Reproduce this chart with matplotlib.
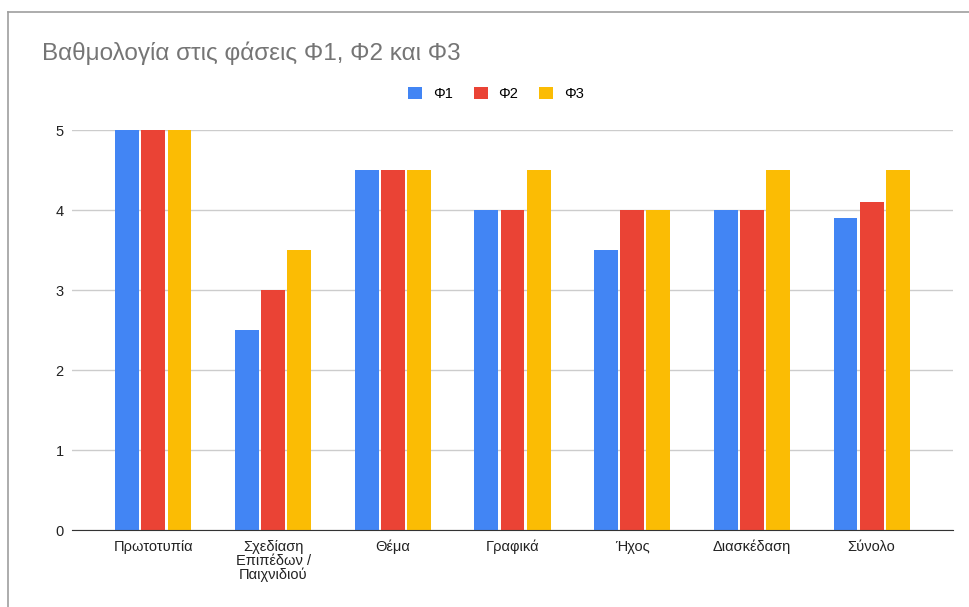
import numpy as np
import matplotlib.pyplot as plt
from matplotlib.lines import Line2D
from matplotlib.patches import Patch

plt.rcParams["font.family"] = ["Liberation Sans", "DejaVu Sans"]

# Scores per criterion for each phase
categories = ["Πρωτοτυπία", "Σχεδίαση\nΕπιπέδων /\nΠαιχνιδιού", "Θέμα", "Γραφικά",
              "Ήχος", "Διασκέδαση", "Σύνολο"]
phase1 = [5, 2.5, 4.5, 4, 3.5, 4, 3.9]
phase2 = [5, 3, 4.5, 4, 4, 4, 4.1]
phase3 = [5, 3.5, 4.5, 4.5, 4, 4.5, 4.5]
series_names = ["Φ1", "Φ2", "Φ3"]
colors = ["#4285f4", "#ea4335", "#fbbc04"]

fig = plt.figure(figsize=(9.7, 6.07), dpi=100)
ax = fig.add_axes([72 / 970, 1 - 530 / 607, (953 - 72) / 970, 400 / 607])

x = np.arange(len(categories))
width = 0.2
step = 0.218
for i, (vals, col) in enumerate(zip([phase1, phase2, phase3], colors)):
    ax.bar(x + (i - 1) * step, vals, width, color=col, zorder=3)

ax.set_xlim(-0.68, 6.68)
ax.set_ylim(0, 5)
ax.set_yticks([0, 1, 2, 3, 4, 5])
ax.set_xticks(x)
ax.set_xticklabels(categories, fontsize=10.5, color="#222222", linespacing=1.0)
ax.tick_params(axis="y", labelsize=10.5, colors="#222222", length=0, pad=6)
ax.tick_params(axis="x", length=0, pad=7)
ax.grid(axis="y", color="#cccccc", linewidth=1, zorder=0)
for side in ["top", "right", "left"]:
    ax.spines[side].set_visible(False)
ax.spines["bottom"].set_color("#333333")
ax.spines["bottom"].set_zorder(4)

fig.text(42 / 970, 1 - 53 / 607, "Βαθμολογία στις φάσεις Φ1, Φ2 και Φ3",
         fontsize=17.5, color="#757575", va="center", ha="left")

handles = [Patch(facecolor=c, edgecolor="none") for c in colors]
fig.legend(handles, series_names, loc="center", bbox_to_anchor=(496 / 970, 1 - 94 / 607),
           ncol=3, frameon=False, fontsize=10.5, handlelength=0.95, handleheight=0.95,
           columnspacing=1.45, handletextpad=0.75)

# outer frame of the embedded chart
fig.add_artist(Line2D([8 / 970, 8 / 970], [0, 1 - 12 / 607], color="#9e9e9e", linewidth=1.2))
fig.add_artist(Line2D([8 / 970, 1], [1 - 12 / 607, 1 - 12 / 607], color="#9e9e9e", linewidth=1.2))

fig.savefig("out.png", dpi=100)
